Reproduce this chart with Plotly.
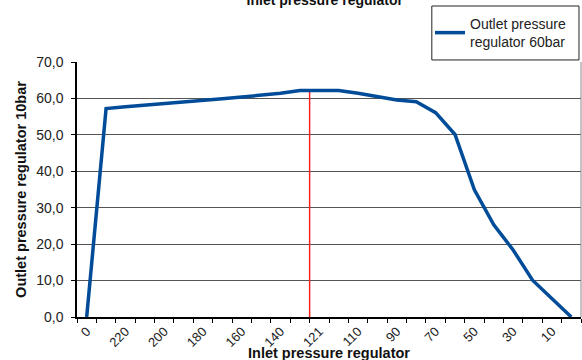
import plotly.graph_objects as go

# category labels along the x axis (only every second one is printed)
categories = ["0", "230", "220", "210", "200", "190", "180", "170", "160", "150",
              "140", "130", "121", "115", "110", "100", "90", "80", "70", "60",
              "50", "40", "30", "20", "10", "0"]
outlet_60bar = [0.0, 57.2, 57.7, 58.1, 58.5, 59.0, 59.5, 59.9, 60.4, 60.9,
                61.4, 62.2, 62.2, 62.2, 61.4, 60.5, 59.6, 59.1, 56.1, 50.1,
                34.9, 25.3, 18.4, 10.1, 5.0, 0.0]
marker_pos = [11.5, 11.5]
marker_val = [0.0, 62.2]
y_ticks = [0, 10, 20, 30, 40, 50, 60, 70]

idx = list(range(len(categories)))
label_idx = idx[::2]
label_txt = categories[::2]
boundaries = [i - 0.5 for i in range(len(categories) + 1)]

FONT = "Liberation Sans, Arial, sans-serif"

fig = go.Figure()

fig.add_trace(go.Scatter(
    x=marker_pos, y=marker_val, mode="lines",
    line=dict(color="#FF2020", width=1.5),
    showlegend=False, hoverinfo="skip",
))

fig.add_trace(go.Scatter(
    x=idx, y=outlet_60bar, mode="lines",
    line=dict(color="#004C99", width=3.5),
    name="Outlet pressure<br>regulator 60bar",
))

fig.update_layout(
    width=582, height=360,
    margin=dict(l=77, r=1, t=62, b=43),
    plot_bgcolor="white", paper_bgcolor="white",
    font=dict(family=FONT, size=13, color="#222"),
    separators=", ",
    title=dict(text="<b>Inlet pressure regulator</b>", x=0.558, xanchor="center",
               y=1.0, yanchor="middle", font=dict(size=14, color="#111")),
    legend=dict(x=0.7004, xanchor="left", y=1.114, yanchor="middle", itemwidth=30,
                borderwidth=0, bgcolor="rgba(0,0,0,0)",
                font=dict(size=14, color="#222")),
    xaxis=dict(
        range=[-0.5, len(categories) - 0.5], automargin=False,
        tickmode="array", tickvals=label_idx, ticktext=label_txt,
        tickangle=-45, ticks="", showgrid=False, zeroline=False,
        showline=True, linecolor="black", linewidth=1.5,
        tickfont=dict(size=13, color="#222"),
        minor=dict(tickmode="array", tickvals=boundaries, ticks="outside",
                   ticklen=4, tickcolor="black", showgrid=False),
    ),
    yaxis=dict(
        range=[0, 70], automargin=False,
        tickmode="array", tickvals=y_ticks, tickformat=".1f",
        ticks="outside", ticklen=4, tickcolor="black", ticklabelstandoff=5,
        showgrid=True, gridcolor="#555", gridwidth=1, zeroline=False,
        showline=True, linecolor="black", linewidth=1.5,
        tickfont=dict(size=14, color="#222"),
        title=dict(text="<b>Outlet pressure regulator 10bar</b>", standoff=6,
                   font=dict(size=14.5, color="#111")),
    ),
    annotations=[dict(text="<b>Inlet pressure regulator</b>", xref="paper", yref="paper",
                      x=0.5, y=-0.141, xanchor="center", yanchor="middle",
                      showarrow=False, font=dict(size=14.5, color="#111"))],
    shapes=[
        dict(type="line", xref="paper", yref="paper", x0=1, x1=1, y0=0, y1=1,
             line=dict(color="#888", width=1)),
        dict(type="rect", xref="paper", yref="paper", x0=0.704, x1=0.996,
             y0=1.008, y1=1.2196, line=dict(color="#222", width=1),
             fillcolor="white", layer="below"),
    ],
)

# drop the browser's default body margin so the figure sits at the page corner
fig.write_html("out.html", config={"displayModeBar": False},
               post_script="document.body.style.margin='0';")
